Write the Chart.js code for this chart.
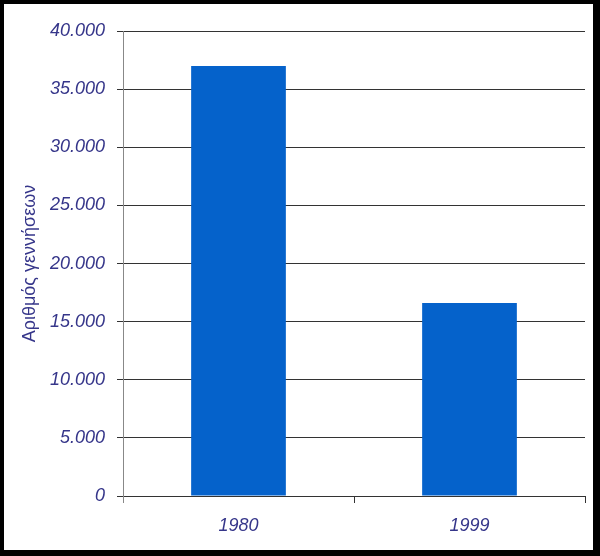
<!DOCTYPE html>
<html>
<head>
<meta charset="utf-8">
<script src="https://cdn.jsdelivr.net/npm/chart.js@4.4.1/dist/chart.umd.min.js"></script>
<style>
  html, body { margin: 0; padding: 0; background: #000; width: 600px; height: 556px; overflow: hidden; }
  #wrap { position: absolute; left: 4px; top: 4px; width: 589px; height: 546px; background: #fff; }
  canvas { display: block; }
</style>
</head>
<body>
<div id="wrap"><canvas id="c" width="589" height="546"></canvas></div>
<script>
const categories = ['1980', '1999'];
const births = [37000, 16600];
const yTicks = [0, 5000, 10000, 15000, 20000, 25000, 30000, 35000, 40000];
const yTitle = 'Αριθμός γεννήσεων';

const textColor = '#36368a';
function fmt(v) {
  return String(v).replace(/\B(?=(\d{3})+(?!\d))/g, '.');
}

new Chart(document.getElementById('c'), {
  type: 'bar',
  data: {
    labels: categories,
    datasets: [{
      data: births,
      backgroundColor: '#0562cb',
      borderWidth: 0,
      barPercentage: 0.41,
      categoryPercentage: 1.0
    }]
  },
  options: {
    responsive: false,
    animation: false,
    events: [],
    layout: { padding: { top: 27, right: 8, left: 0, bottom: 0 } },
    plugins: { legend: { display: false }, tooltip: { enabled: false } },
    scales: {
      x: {
        offset: true,
        grid: {
          offset: true,
          drawOnChartArea: false,
          drawTicks: true,
          tickLength: 7,
          color: (ctx) => ctx.index === 0 ? '#888888' : '#333333',
          lineWidth: 1
        },
        border: { color: '#333333', width: 1 },
        ticks: {
          color: textColor,
          padding: 12,
          font: { family: "'Liberation Sans', Arial, sans-serif", size: 18, style: 'italic' }
        },
        afterFit: (s) => { s.height = 54; }
      },
      y: {
        min: 0,
        max: 40000,
        afterBuildTicks: (s) => { s.ticks = yTicks.map(v => ({ value: v })); },
        grid: {
          color: '#333333',
          lineWidth: 1,
          tickLength: 6,
          drawTicks: true
        },
        border: { color: '#888888', width: 1 },
        ticks: {
          color: textColor,
          padding: 12,
          callback: (v) => fmt(v),
          font: { family: "'Liberation Sans', Arial, sans-serif", size: 18, style: 'italic' }
        },
        title: {
          display: true,
          text: yTitle,
          color: textColor,
          padding: { top: 15, bottom: 0 },
          font: { family: "'Liberation Sans', Arial, sans-serif", size: 18 }
        },
        afterFit: (s) => { s.width = 119; }
      }
    }
  }
});
</script>
</body>
</html>
